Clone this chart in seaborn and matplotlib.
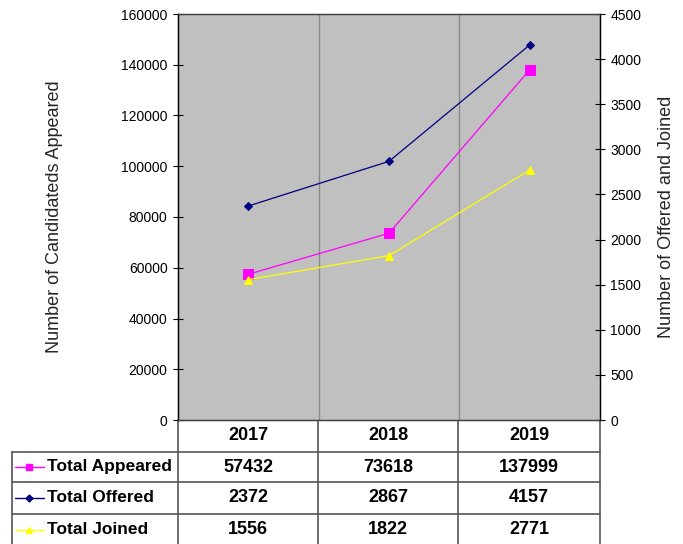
import matplotlib
matplotlib.use('Agg')
import matplotlib.pyplot as plt
import seaborn as sns

years = ['2017', '2018', '2019']
appeared = [57432, 73618, 137999]
offered = [2372, 2867, 4157]
joined = [1556, 1822, 2771]

series_names = ['Total Appeared', 'Total Offered', 'Total Joined']
series_values = [appeared, offered, joined]
series_colors = ['#FF00FF', '#000080', '#FFFF00']
series_markers = ['s', 'D', '^']

left_ticks = list(range(0, 160001, 20000))
right_ticks = list(range(0, 4501, 500))

sns.set_style('white')
plt.rcParams['font.family'] = ['Liberation Sans', 'DejaVu Sans']

W, H = 683, 544
fig = plt.figure(figsize=(W / 100, H / 100), dpi=100)

# plot area in pixel terms of the reference
ax = fig.add_axes([178 / W, 1 - 420 / H, 422 / W, 406 / H])
ax.set_facecolor('#C0C0C0')
ax2 = ax.twinx()

sns.lineplot(x=years, y=appeared, ax=ax, color=series_colors[0], marker='s',
             markersize=6.5, markeredgecolor=series_colors[0], linewidth=0.9)
sns.lineplot(x=years, y=offered, ax=ax2, color=series_colors[1], marker='D',
             markersize=4.5, markeredgecolor=series_colors[1], linewidth=0.9)
sns.lineplot(x=years, y=joined, ax=ax2, color=series_colors[2], marker='^',
             markersize=6, markeredgecolor=series_colors[2], linewidth=0.9)

ax.set_xlim(-0.5, len(years) - 0.5)
ax.set_ylim(0, 160000)
ax2.set_ylim(0, 4500)
ax.set_yticks(left_ticks)
ax2.set_yticks(right_ticks)
ax.set_xticks([])
ax.set_xticks([i + 0.5 for i in range(len(years) - 1)], minor=True)
ax.grid(False)
ax.grid(True, which='minor', axis='x', color='#8A8A8A', linewidth=1)
ax.tick_params(axis='x', which='both', length=0, labelbottom=False)
ax2.tick_params(axis='x', which='both', length=0)

for a in (ax, ax2):
    a.tick_params(axis='y', direction='inout', length=7, width=0.8,
                  labelsize=10, colors='black', pad=4)
    for s in a.spines.values():
        s.set_linewidth(0.9)
        s.set_color('#404040')
    a.spines['left'].set_color('black')
    a.spines['right'].set_color('black')

ax.set_ylabel('Number of Candidateds Appeared', fontsize=13)
ax.yaxis.set_label_coords(-0.272, 0.5)
ax2.set_ylabel('Number of Offered and Joined', fontsize=13)
ax2.yaxis.set_label_coords(1.137, 0.5)
ax.set_xlabel('')
ax2.set_xlabel('')

# data table below the plot
tax = fig.add_axes([0, 0, 1, 1])
tax.set_zorder(-1)
tax.patch.set_visible(False)
tax.set_xlim(0, W)
tax.set_ylim(H, 0)
tax.axis('off')

row_edges = [420, 452, 482, 514, 546]
col_edges = [12, 178, 318, 458, 600]
lc = '#555555'
for y in row_edges[1:4]:
    tax.plot([col_edges[0], col_edges[-1]], [y, y], color=lc, lw=1.2)
for x in col_edges[1:]:
    tax.plot([x, x], [row_edges[0], row_edges[-1]], color=lc, lw=1.2)
tax.plot([col_edges[0], col_edges[0]], [row_edges[1], row_edges[-1]], color=lc, lw=1.2)

tfont = dict(family=['Liberation Sans', 'DejaVu Sans'],
             fontweight='bold', color='black')

for j, yr in enumerate(years):
    cx = (col_edges[j + 1] + col_edges[j + 2]) / 2
    cy = (row_edges[0] + row_edges[1]) / 2
    tax.text(cx, cy, yr, ha='center', va='center', fontsize=13, **tfont)

key_ms = {'s': 5, 'D': 3.5, '^': 5}
for i, (name, vals, col, mk) in enumerate(zip(series_names, series_values,
                                              series_colors, series_markers)):
    cy = (row_edges[i + 1] + row_edges[i + 2]) / 2
    tax.plot([15, 44], [cy, cy], color=col, lw=1)
    tax.plot([29], [cy], marker=mk, color=col, ms=key_ms[mk], mec=col)
    tax.text(47, cy, name, ha='left', va='center', fontsize=12.5, **tfont)
    for j, v in enumerate(vals):
        cx = (col_edges[j + 1] + col_edges[j + 2]) / 2
        tax.text(cx, cy, f'{v}', ha='center', va='center', fontsize=13, **tfont)

fig.savefig('out.png', dpi=100)
